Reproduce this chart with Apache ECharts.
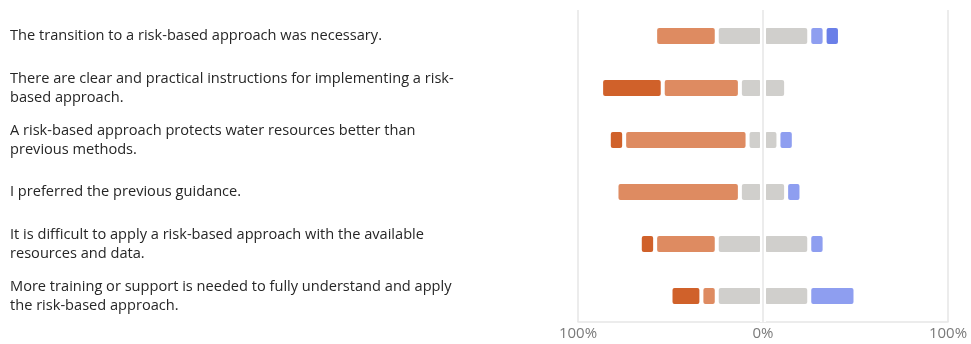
<!DOCTYPE html>
<html>
<head>
<meta charset="utf-8">
<script src="https://cdn.jsdelivr.net/npm/echarts@6/dist/echarts.min.js"></script>
<style>
  html, body { margin: 0; padding: 0; background: #fff; }
  #chart { width: 971px; height: 344px; }
</style>
</head>
<body>
<div id="chart"></div>
<script>
// Survey statements, top to bottom
const statements = [
  'The transition to a risk-based approach was necessary.',
  'There are clear and practical instructions for implementing a risk-\nbased approach.',
  'A risk-based approach protects water resources better than\nprevious methods.',
  'I preferred the previous guidance.',
  'It is difficult to apply a risk-based approach with the available\nresources and data.',
  'More training or support is needed to fully understand and apply\nthe risk-based approach.'
];

// Share of responses (%) per answer option
const stronglyDisagree = [0, 33.3, 8.3, 0, 8.3, 16.7];
const disagree         = [33.3, 41.7, 66.7, 66.7, 33.3, 8.3];
const neutral          = [50, 25, 16.7, 25, 50, 50];
const agree            = [8.3, 0, 8.3, 8.3, 8.3, 25];
const stronglyAgree    = [8.3, 0, 0, 0, 0, 0];

// Axis ticks
const axisMin = -100;
const axisMax = 100;
const axisStep = 100;

const colors = {
  strongDis: '#D0612A',
  dis: '#DE8B61',
  neutral: '#D0CFCC',
  agree: '#8E9EF0',
  strongAgree: '#6A7FE8'
};

const blank = v => (v === 0 ? '-' : v);
const neg = arr => arr.map(v => blank(-v));
const pos = arr => arr.map(v => blank(v));
const half = arr => arr.map(v => v / 2);

const barStyle = c => ({
  color: c,
  borderColor: '#ffffff',
  borderWidth: 2,
  borderRadius: 3
});

function bar(name, data, color) {
  return {
    name: name,
    type: 'bar',
    stack: 'likert',
    barWidth: 20,
    data: data,
    itemStyle: barStyle(color),
    emphasis: { disabled: true }
  };
}

// Negative values stack outward from zero, in series order
const series = [
  bar('Neutral (left)', neg(half(neutral)), colors.neutral),
  bar('Disagree', neg(disagree), colors.dis),
  bar('Strongly disagree', neg(stronglyDisagree), colors.strongDis),
  bar('Neutral (right)', pos(half(neutral)), colors.neutral),
  bar('Agree', pos(agree), colors.agree),
  bar('Strongly agree', pos(stronglyAgree), colors.strongAgree)
];

// Zero line with a white channel so both halves sit apart from it
series[3].markLine = {
  silent: true,
  symbol: 'none',
  label: { show: false },
  data: [
    { xAxis: 0, lineStyle: { color: '#ffffff', width: 6, type: 'solid' } },
    { xAxis: 0, lineStyle: { color: '#E6E6E6', width: 1.5, type: 'solid' } }
  ],
  animation: false
};

const chart = echarts.init(document.getElementById('chart'), null, { renderer: 'canvas' });
chart.setOption({
  animation: false,
  backgroundColor: '#ffffff',
  grid: { left: 578, right: 23, top: 10, bottom: 22, containLabel: false },
  xAxis: {
    type: 'value',
    min: axisMin,
    max: axisMax,
    interval: axisStep,
    axisLine: { show: true, lineStyle: { color: '#E6E6E6', width: 1.5 } },
    axisTick: { show: false },
    splitLine: { show: true, lineStyle: { color: '#E6E6E6', width: 1.5 } },
    axisLabel: {
      margin: 4,
      color: '#7A7A7A',
      fontSize: 15,
      fontFamily: 'Open Sans',
      formatter: v => Math.abs(v) + '%'
    }
  },
  yAxis: {
    type: 'category',
    inverse: true,
    data: statements,
    axisLine: { show: false },
    axisTick: { show: false },
    splitLine: { show: false },
    axisLabel: {
      align: 'left',
      margin: 568,
      color: '#262626',
      fontSize: 14.6,
      lineHeight: 19,
      padding: [5, 0, 0, 0],
      fontFamily: 'Open Sans'
    }
  },
  series: series
});
</script>
</body>
</html>
